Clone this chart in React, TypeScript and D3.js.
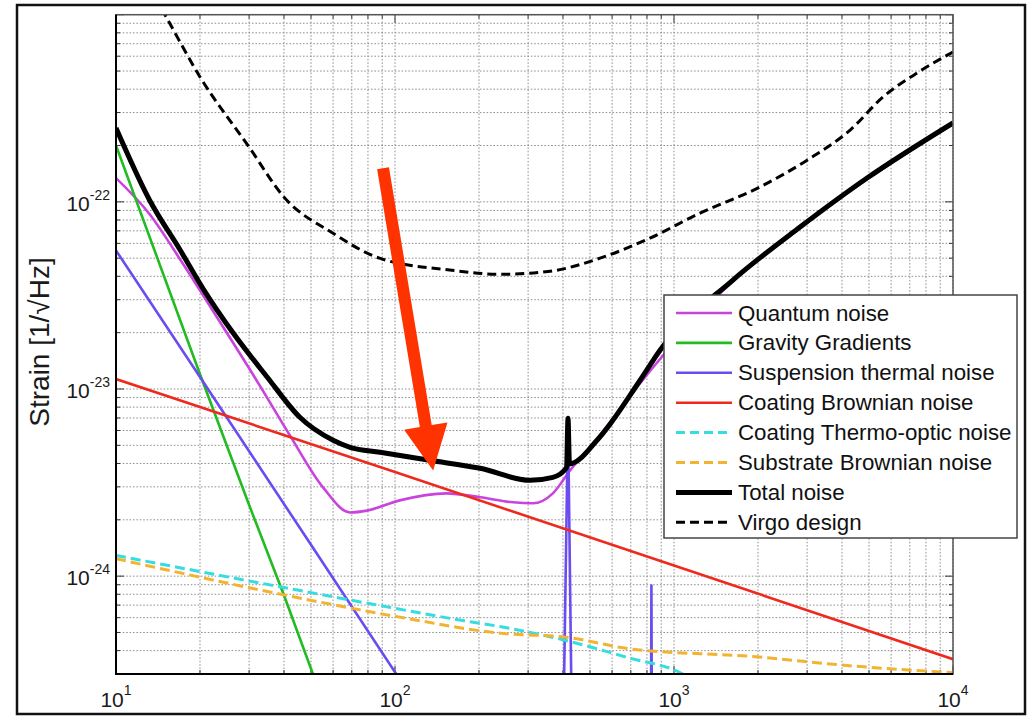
import React from 'react';
import * as d3 from 'd3';

// noise curves (frequency in Hz, strain in 1/sqrt(Hz))
const quantumF = [10, 13.2, 17.4, 22.3, 32.8, 42, 55.2, 69, 79.4, 104, 153, 202, 265, 312, 368, 424, 513, 590, 755, 1626, 2830, 4920, 10000];
const quantumV = [1.34e-22, 8.59e-23, 4.65e-23, 2.6e-23, 1.04e-23, 5.65e-24, 2.98e-24, 2.19e-24, 2.24e-24, 2.54e-24, 2.77e-24, 2.64e-24, 2.48e-24, 2.45e-24, 2.77e-24, 3.67e-24, 5.13e-24, 6.64e-24, 1.07e-23, 3.76e-23, 7.24e-23, 1.32e-22, 2.61e-22];

const gravityF = [10, 20, 30, 40, 50, 55];
const gravityV = [2.0e-22, 1.2e-23, 2.4e-24, 7.9e-25, 3.2e-25, 2.2e-25];

const suspF = [10, 20, 50, 101, 200, 400, 404, 417, 428, 440, 820, 830, 840, 1000];
const suspV = [5.5e-23, 1.16e-23, 1.47e-24, 3.0e-25, 6.6e-26, 1.4e-26, 3.0e-25, 7.0e-24, 3.0e-25, 1.3e-26, 3e-27, 8.9e-25, 3e-27, 2e-27];

const coatBrF = [10, 100, 1000, 10000];
const coatBrV = [1.13e-23, 3.6e-24, 1.14e-24, 3.6e-25];

const thermoF = [10, 40, 88, 175, 246, 410, 684, 1066, 1300];
const thermoV = [1.29e-24, 8.69e-25, 6.97e-25, 5.79e-25, 5.33e-25, 4.53e-25, 3.67e-25, 3.02e-25, 2.5e-25];

const substrF = [10, 40, 104, 246, 410, 684, 1920, 4390, 10000];
const substrV = [1.24e-24, 7.94e-25, 6.04e-25, 4.93e-25, 4.72e-25, 4.10e-25, 3.72e-25, 3.31e-25, 3.05e-25];

const totalF = [10, 13.2, 17, 20.5, 26.3, 34.8, 45.6, 60, 69, 88.4, 133, 202, 305, 368, 412, 417, 422, 530, 755, 891, 1626, 2830, 4920, 10000];
const totalV = [2.48e-22, 1.02e-22, 5.51e-23, 3.44e-23, 1.99e-23, 1.16e-23, 7.06e-24, 5.32e-24, 4.88e-24, 4.59e-24, 4.16e-24, 3.77e-24, 3.25e-24, 3.37e-24, 3.80e-24, 6.97e-24, 3.98e-24, 5.32e-24, 1.11e-23, 1.61e-23, 3.82e-23, 7.33e-23, 1.34e-22, 2.64e-22];

const virgoF = [13, 15, 20, 30, 40, 60, 88, 157, 238, 360, 543, 820, 1240, 2030, 3000, 4280, 5610, 7430, 10000];
const virgoV = [1.45e-21, 9.95e-22, 4.65e-22, 1.96e-22, 1.06e-22, 6.79e-23, 5.0e-23, 4.32e-23, 4.10e-23, 4.26e-23, 5.0e-23, 6.4e-23, 8.71e-23, 1.2e-22, 1.67e-22, 2.42e-22, 3.63e-22, 4.88e-22, 6.32e-22];

const xLabels = [1, 2, 3, 4];
const yLabels = [-24, -23, -22];

// red annotation arrow, tail and tip in data units
const arrowTail = { f: 90.6, v: 1.51e-22 };
const arrowTip = { f: 137, v: 3.67e-24 };

const series = [
  { name: 'Quantum noise', f: quantumF, v: quantumV, color: '#c844dc', w: 2.6, dash: null, smooth: true },
  { name: 'Gravity Gradients', f: gravityF, v: gravityV, color: '#22bb22', w: 2.6, dash: null, smooth: false },
  { name: 'Suspension thermal noise', f: suspF, v: suspV, color: '#6a4cf0', w: 2.6, dash: null, smooth: false },
  { name: 'Coating Brownian noise', f: coatBrF, v: coatBrV, color: '#ee2a1e', w: 2.6, dash: null, smooth: false },
  { name: 'Coating Thermo-optic noise', f: thermoF, v: thermoV, color: '#33dde0', w: 3, dash: '10,5', smooth: true },
  { name: 'Substrate Brownian noise', f: substrF, v: substrV, color: '#f2b430', w: 3, dash: '10,5', smooth: true },
  { name: 'Total noise', f: totalF, v: totalV, color: '#000', w: 5, dash: null, smooth: true },
  { name: 'Virgo design', f: virgoF, v: virgoV, color: '#000', w: 3, dash: '9,5', smooth: true },
];

const font = '"Liberation Sans", Arial, sans-serif';

export default function App() {
  const x = d3.scaleLog().domain([10, 1e4]).range([116, 953]);
  const y = d3.scaleLog().domain([3e-25, 1e-21]).range([674, 14.7]);
  const [x0, x1] = x.range();
  const [y0, y1] = y.range();

  const isMajor = (t: number) => Math.abs(Math.log10(t) - Math.round(Math.log10(t))) < 1e-6;
  const xt = x.ticks();
  const yt = y.ticks();

  const path = (s: any) =>
    d3.line<[number, number]>()
      .x(d => x(d[0]))
      .y(d => y(d[1]))
      .curve(s.smooth ? d3.curveMonotoneX : d3.curveLinear)(d3.zip(s.f, s.v) as [number, number][]);

  // arrow geometry
  const tx = x(arrowTail.f), ty = y(arrowTail.v);
  const hx = x(arrowTip.f), hy = y(arrowTip.v);
  const len = Math.hypot(hx - tx, hy - ty);
  const ux = (hx - tx) / len, uy = (hy - ty) / len;
  const nx = -uy, ny = ux;
  const headL = 45, headW = 22, shaftW = 6;
  const bx = hx - headL * ux, by = hy - headL * uy;
  const arrowPts = [
    [tx + shaftW * nx, ty + shaftW * ny],
    [bx + shaftW * nx, by + shaftW * ny],
    [bx + headW * nx, by + headW * ny],
    [hx, hy],
    [bx - headW * nx, by - headW * ny],
    [bx - shaftW * nx, by - shaftW * ny],
    [tx - shaftW * nx, ty - shaftW * ny],
  ].map(p => p.join(',')).join(' ');

  const lg = { x: 664, y: 295, w: 353, h: 243, row: 29.9, first: 313 };

  return (
    <svg width={1027} height={717} style={{ position: 'absolute', left: 0, top: 0, background: '#fff' }} fontFamily={font}>
      <rect x={17} y={5} width={1008} height={709} fill="#fff" stroke="#111" strokeWidth={2.5} />
      <defs>
        <clipPath id="plot">
          <rect x={x0} y={y1} width={x1 - x0} height={y0 - y1} />
        </clipPath>
      </defs>

      {/* grid */}
      <g stroke="#858585" strokeWidth={0.9} strokeDasharray="1.6,1.8">
        {xt.map((t, i) => <line key={'gx' + i} x1={x(t)} x2={x(t)} y1={y1} y2={y0} />)}
        {yt.map((t, i) => <line key={'gy' + i} x1={x0} x2={x1} y1={y(t)} y2={y(t)} />)}
      </g>

      {/* inward ticks on all sides */}
      <g stroke="#333" strokeWidth={1}>
        {xt.map((t, i) => {
          const l = isMajor(t) ? 8 : 4;
          return (
            <g key={'tx' + i}>
              <line x1={x(t)} x2={x(t)} y1={y0} y2={y0 - l} />
              <line x1={x(t)} x2={x(t)} y1={y1} y2={y1 + l} />
            </g>
          );
        })}
        {yt.map((t, i) => {
          const l = isMajor(t) ? 8 : 4;
          return (
            <g key={'ty' + i}>
              <line x1={x0} x2={x0 + l} y1={y(t)} y2={y(t)} />
              <line x1={x1} x2={x1 - l} y1={y(t)} y2={y(t)} />
            </g>
          );
        })}
      </g>

      {/* curves */}
      <g clipPath="url(#plot)" fill="none" strokeLinejoin="round">
        {series.map(s => (
          <path key={s.name} d={path(s) || ''} stroke={s.color} strokeWidth={s.w} strokeDasharray={s.dash || undefined} />
        ))}
      </g>

      {/* frame */}
      <rect x={x0} y={y1} width={x1 - x0} height={y0 - y1} fill="none" stroke="#555" strokeWidth={1.5} />
      <line x1={x0} x2={x0} y1={y1} y2={y0 + 1} stroke="#000" strokeWidth={2} />
      <line x1={x0 - 1} x2={x1} y1={y0} y2={y0} stroke="#000" strokeWidth={2} />

      {/* tick labels */}
      <g fill="#1a1a1a">
        {xLabels.map(p => (
          <text key={'xl' + p} x={x(Math.pow(10, p))} y={707} textAnchor="middle" fontSize={21}>
            10<tspan fontSize={14} dy={-12}>{p}</tspan>
          </text>
        ))}
        {yLabels.map(p => (
          <text key={'yl' + p} x={110} y={y(Math.pow(10, p)) + 9} textAnchor="end" fontSize={21}>
            10<tspan fontSize={14} dy={-11}>{p}</tspan>
          </text>
        ))}
        <text transform={`translate(49,${342}) rotate(-90)`} textAnchor="middle" fontSize={28}>
          Strain [1/√Hz]
        </text>
      </g>

      {/* legend */}
      <rect x={lg.x} y={lg.y} width={lg.w} height={lg.h} fill="#fff" stroke="#444" strokeWidth={1.5} />
      {series.map((s, i) => {
        const cy = lg.first + i * lg.row;
        return (
          <g key={'lg' + i}>
            <line x1={676} x2={732} y1={cy} y2={cy} stroke={s.color} strokeWidth={s.w}
              strokeDasharray={s.dash ? '9,5' : undefined} />
            <text x={738} y={cy + 7.5} fontSize={22.3} fill="#111">{s.name}</text>
          </g>
        );
      })}

      {/* annotation arrow */}
      <polygon points={arrowPts} fill="#ff3300" />
    </svg>
  );
}
